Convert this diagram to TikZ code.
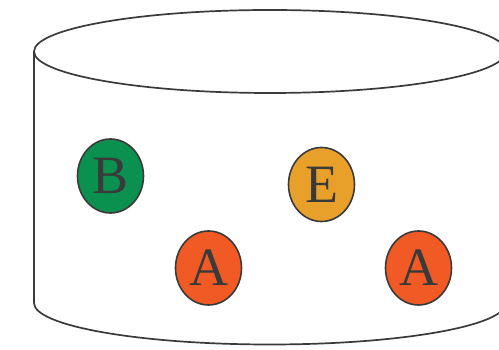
\documentclass[tikz,border=0pt]{standalone}
\usepackage{fontspec}
\setmainfont{Liberation Serif}
\usepackage{tikz}
\usetikzlibrary{shapes.geometric}
\usepackage{xcolor}
\definecolor{edgegray}{HTML}{3A3A3A}
\definecolor{bgreen}{HTML}{0A9150}
\definecolor{eorange}{HTML}{E9A02B}
\definecolor{ared}{HTML}{F15A24}

\begin{document}
\begin{tikzpicture}[
    x=1pt, y=1pt,
    tank/.style={draw=edgegray, line width=1.7pt},
    token/.style={ellipse, draw=edgegray, line width=1.6pt, minimum width=66pt, minimum height=74pt, inner sep=0pt, text=edgegray, font=\fontsize{54}{54}\selectfont},
    tokB/.style={token, fill=bgreen},
    tokE/.style={token, fill=eorange},
    tokA/.style={token, fill=ared}
]
\useasboundingbox (0,0) rectangle (499,350);
\clip (0,0) rectangle (499,350);

% Cylinder
\draw[tank] (270,298.5) ellipse[x radius=236, y radius=41.5];
\draw[tank] (34,298.5) -- (34,47) arc[start angle=180, end angle=360, x radius=236, y radius=41.5] -- (506,298.5);

% Tokens
\node[tokB] (b) at (110.5,174) {B};
\node[tokE] (e) at (321.5,165.5) {E};
\node[tokA] (a1) at (208.5,82) {A};
\node[tokA] (a2) at (418.5,82) {A};

\end{tikzpicture}
\end{document}
